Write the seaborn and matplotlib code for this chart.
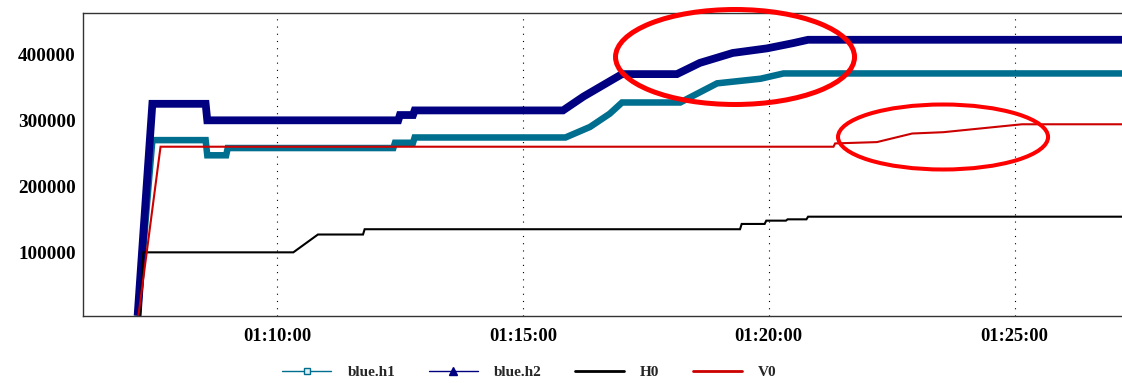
import matplotlib
matplotlib.use("Agg")
import matplotlib.pyplot as plt
import numpy as np
import pandas as pd
import seaborn as sns
from matplotlib.lines import Line2D
from matplotlib.patches import Ellipse
from matplotlib.ticker import MultipleLocator, FuncFormatter

# ---------------- data (time in seconds since 00:00:00) ----------------
t_h1 = [4030, 4048, 4113, 4115, 4138, 4140, 4342, 4344, 4366, 4368, 4552, 4582,
        4606, 4621, 4692, 4737, 4790, 4818, 5240]
v_h1 = [4000, 270000, 270000, 247000, 247000, 258000, 258000, 266000, 266000, 274000,
        274000, 290000, 310000, 327000, 327000, 356000, 363000, 371000, 371000]

t_h2 = [4030, 4048, 4113, 4115, 4348, 4350, 4366, 4368, 4549, 4574, 4603, 4621,
        4688, 4716, 4756, 4798, 4830, 4848, 5240]
v_h2 = [4000, 325000, 325000, 300000, 300000, 308000, 308000, 315000, 315000, 336000,
        357000, 370000, 370000, 387000, 402000, 409000, 417000, 422000, 422000]

t_H0 = [4033, 4037, 4220, 4250, 4305, 4307, 4765, 4767, 4795, 4797, 4821, 4823,
        4846, 4848, 5240]
v_H0 = [4000, 100000, 100000, 127000, 127000, 135000, 135000, 143000, 143000, 148000,
        148000, 150000, 150000, 154000, 154000]

t_V0 = [4031, 4055, 4058, 4879, 4881, 4932, 4975, 5013, 5109, 5240]
v_V0 = [4000, 232000, 260000, 260000, 265000, 267000, 280000, 282000, 294000, 294000]

series_names = ["blue.h1", "blue.h2", "H0", "V0"]
x_ticks = [4200, 4500, 4800, 5100]

# ---------------- style ----------------
sns.set_style("white")
plt.rcParams["font.family"] = ["Liberation Serif", "DejaVu Serif"]
plt.rcParams["font.weight"] = "bold"

c_h1 = "#006E8E"
c_h2 = "#000080"
c_H0 = "#000000"
c_V0 = "#CC0000"

fig = plt.figure(figsize=(11.22, 3.83), dpi=100)
ax = fig.add_axes([0.0737, 0.1757, 0.9263, 0.7911])

specs = [
    (t_h1, v_h1, c_h1, 4.7),
    (t_h2, v_h2, c_h2, 5.6),
    (t_H0, v_H0, c_H0, 1.5),
    (t_V0, v_V0, c_V0, 1.5),
]
for (t, v, c, lw) in specs:
    df = pd.DataFrame({"t": t, "v": v})
    sns.lineplot(data=df, x="t", y="v", ax=ax, color=c, linewidth=lw,
                 estimator=None, sort=False, legend=False,
                 solid_capstyle="butt", solid_joinstyle="miter")

ax.set_xlabel("")
ax.set_ylabel("")
ax.set_xlim(3963, 5231)
ax.set_ylim(4000, 463000)

ax.set_xticks(x_ticks)
ax.xaxis.set_major_formatter(FuncFormatter(
    lambda s, p: f"{int(s)//3600:02d}:{int(s)%3600//60:02d}:{int(s)%60:02d}"))
ax.yaxis.set_major_locator(MultipleLocator(100000))
ax.yaxis.set_minor_locator(MultipleLocator(50000))
ax.yaxis.set_major_formatter(FuncFormatter(lambda v, p: f"{int(round(v))}"))

ax.tick_params(axis="both", which="both", direction="inout", length=4.3, width=1.0,
               color="#333333", labelcolor="black")
ax.tick_params(axis="x", pad=6.5, labelsize=13.3)
ax.tick_params(axis="y", pad=2.7, labelsize=13.8)
for lab in ax.get_xticklabels() + ax.get_yticklabels():
    lab.set_fontweight("bold")

ax.xaxis.grid(True, which="major", color="black", linestyle=(0, (1, 5.5)), linewidth=0.8)
ax.yaxis.grid(False)
ax.set_axisbelow(True)

ax.spines["right"].set_visible(False)
for s in ["left", "top", "bottom"]:
    ax.spines[s].set_color("#333333")
    ax.spines[s].set_linewidth(1.0)

handles = [
    Line2D([], [], color=c_h1, lw=1.0, marker="s", markersize=4.2,
           markerfacecolor="#dfeff4", markeredgecolor=c_h1, markeredgewidth=1.0),
    Line2D([], [], color=c_h2, lw=1.0, marker="^", markersize=5.5,
           markerfacecolor=c_h2, markeredgecolor=c_h2),
    Line2D([], [], color=c_H0, lw=2.0),
    Line2D([], [], color=c_V0, lw=2.0),
]
fig.legend(handles, series_names, loc="center", bbox_to_anchor=(0.472, 0.0287),
           ncol=4, frameon=False, handlelength=3.2, handletextpad=1.05,
           columnspacing=2.2, borderaxespad=0, borderpad=0,
           prop={"family": ["Liberation Serif"], "weight": "bold", "size": 11})

# red annotation ellipses
fig.add_artist(Ellipse((0.6551, 0.8512), 0.2130, 0.2480, transform=fig.transFigure,
                       fill=False, edgecolor="#FF0000", linewidth=3.6, zorder=10))
fig.add_artist(Ellipse((0.8405, 0.6423), 0.1872, 0.1697, transform=fig.transFigure,
                       fill=False, edgecolor="#FF0000", linewidth=2.9, zorder=10))

fig.savefig("out.png", dpi=100)
